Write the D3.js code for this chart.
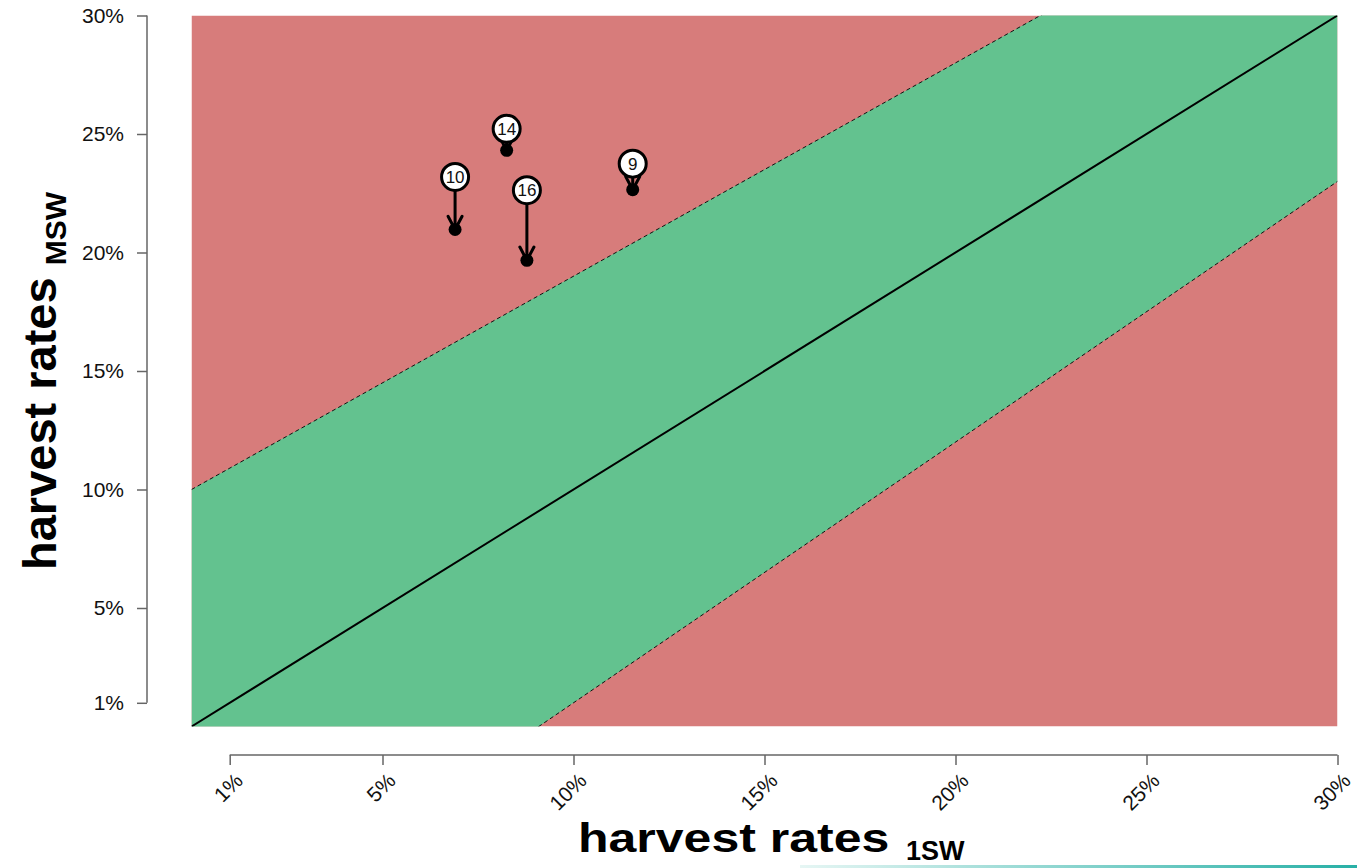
<!DOCTYPE html>
<html>
<head>
<meta charset="utf-8">
<script src="https://cdn.jsdelivr.net/npm/d3@7"></script>
<style>
  html, body { margin: 0; padding: 0; background: #fff; }
  svg { display: block; font-family: "Liberation Sans", Arial, sans-serif; }
</style>
</head>
<body>
<svg id="chart" width="1357" height="868"></svg>
<script>
// Harvest rates of 1SW vs MSW salmon, with the balanced-harvest band
const regionIds = ["10", "14", "16", "9"];
const rate1SW   = [0.0690, 0.0825, 0.0878, 0.1155];
const rateMSWFrom = [0.2319, 0.2522, 0.2263, 0.2375];
const rateMSWTo   = [0.2097, 0.2431, 0.1967, 0.2265];

const tickValues = [0.01, 0.05, 0.10, 0.15, 0.20, 0.25, 0.30];
const tickLabels = ["1%", "5%", "10%", "15%", "20%", "25%", "30%"];

// band edges: MSW = slope * 1SW + intercept
const bandUpper = [0.9, 0.10];
const bandLower = [1.1, -0.10];
const axisExtent = [0, 0.30];

const svg = d3.select("#chart");
const x = d3.scaleLinear().domain(axisExtent).range([191.5, 1337.5]);
const y = d3.scaleLinear().domain(axisExtent).range([726.5, 15.5]);

const RED = "#d77c7b", GREEN = "#63c28f";

// clip to the plotting box
svg.append("clipPath").attr("id", "box")
  .append("rect")
  .attr("x", x(axisExtent[0])).attr("y", y(axisExtent[1]))
  .attr("width", x(axisExtent[1]) - x(axisExtent[0]))
  .attr("height", y(axisExtent[0]) - y(axisExtent[1]));

const plot = svg.append("g").attr("clip-path", "url(#box)");

plot.append("rect")
  .attr("x", x(axisExtent[0])).attr("y", y(axisExtent[1]))
  .attr("width", x(axisExtent[1]) - x(axisExtent[0]))
  .attr("height", y(axisExtent[0]) - y(axisExtent[1]))
  .attr("fill", RED);

const lo = axisExtent[0], hi = axisExtent[1];
const f = (p, v) => p[0] * v + p[1];
const bandPoly = [
  [lo, f(bandUpper, lo)], [hi, f(bandUpper, hi)],
  [hi, f(bandLower, hi)], [lo, f(bandLower, lo)]
];
plot.append("path")
  .attr("d", d3.line().x(d => x(d[0])).y(d => y(d[1]))(bandPoly) + "Z")
  .attr("fill", GREEN);

const line = d3.line().x(d => x(d[0])).y(d => y(d[1]));
[bandUpper, bandLower].forEach(p => {
  plot.append("path")
    .attr("d", line([[lo, f(p, lo)], [hi, f(p, hi)]]))
    .attr("fill", "none").attr("stroke", "#111")
    .attr("stroke-width", 1).attr("stroke-dasharray", "4,3");
});
plot.append("path")
  .attr("d", line([[lo, lo], [hi, hi]]))
  .attr("fill", "none").attr("stroke", "#000").attr("stroke-width", 2);

// axes
const AX = "#666";
const yAxisX = 147, xAxisY = 755;

const gy = svg.append("g").attr("transform", `translate(${yAxisX},0)`)
  .call(d3.axisLeft(y).tickValues(tickValues).tickSize(10).tickPadding(13)
        .tickFormat((d, i) => tickLabels[i]));
gy.select(".domain").remove();
gy.append("line")
  .attr("x1", 0).attr("x2", 0)
  .attr("y1", y(tickValues[0])).attr("y2", y(tickValues[tickValues.length - 1]))
  .attr("stroke", AX).attr("stroke-width", 1.5);
gy.selectAll(".tick line").attr("stroke", AX).attr("stroke-width", 1.5);
gy.selectAll(".tick text").attr("font-size", 21).attr("fill", "#111")
  .attr("font-family", "Liberation Sans, Arial, sans-serif");

const gx = svg.append("g").attr("transform", `translate(0,${xAxisY})`)
  .call(d3.axisBottom(x).tickValues(tickValues).tickSize(10)
        .tickFormat((d, i) => tickLabels[i]));
gx.select(".domain").remove();
gx.append("line")
  .attr("y1", 0).attr("y2", 0)
  .attr("x1", x(tickValues[0])).attr("x2", x(tickValues[tickValues.length - 1]))
  .attr("stroke", AX).attr("stroke-width", 1.5);
gx.selectAll(".tick line").attr("stroke", AX).attr("stroke-width", 1.5);
gx.selectAll(".tick text")
  .attr("font-size", 21).attr("fill", "#111")
  .attr("font-family", "Liberation Sans, Arial, sans-serif")
  .attr("text-anchor", "end")
  .attr("y", 0).attr("dy", 0)
  .attr("transform", "translate(14,27) rotate(-45)");

// axis titles
svg.append("text")
  .attr("transform", "translate(578,852) scale(1,0.82)")
  .attr("font-weight", "bold").attr("font-size", 50).attr("fill", "#000")
  .text("harvest rates");
svg.append("text")
  .attr("x", 906).attr("y", 860)
  .attr("font-weight", "bold").attr("font-size", 27).attr("fill", "#000")
  .text("1SW");

const yt = svg.append("text")
  .attr("transform", "translate(56,570) rotate(-90)")
  .attr("font-weight", "bold").attr("font-size", 47).attr("fill", "#000");
yt.append("tspan").text("harvest rates");
yt.append("tspan").attr("dx", 12).attr("dy", 10).attr("font-size", 30).text("MSW");

// change arrows: from earlier rate (labelled circle) to current rate (dot)
const marks = svg.append("g");
const headLen = 15, headAng = 28 * Math.PI / 180;
regionIds.forEach((id, i) => {
  const x0 = x(rate1SW[i]), y0 = y(rateMSWFrom[i]);
  const x1 = x(rate1SW[i]), y1 = y(rateMSWTo[i]);
  const a = Math.atan2(y1 - y0, x1 - x0);
  const g = marks.append("g").attr("stroke", "#000").attr("stroke-width", 3)
    .attr("fill", "none").attr("stroke-linecap", "round");
  g.append("line").attr("x1", x0).attr("y1", y0).attr("x2", x1).attr("y2", y1);
  [-headAng, headAng].forEach(s => {
    g.append("line").attr("x1", x1).attr("y1", y1)
      .attr("x2", x1 - headLen * Math.cos(a + s))
      .attr("y2", y1 - headLen * Math.sin(a + s));
  });
});
marks.selectAll("circle.dot").data(regionIds).join("circle")
  .attr("class", "dot")
  .attr("cx", (d, i) => x(rate1SW[i])).attr("cy", (d, i) => y(rateMSWTo[i]))
  .attr("r", 6.5).attr("fill", "#000");

const labels = marks.selectAll("g.lab").data(regionIds).join("g")
  .attr("class", "lab")
  .attr("transform", (d, i) => `translate(${x(rate1SW[i])},${y(rateMSWFrom[i])})`);
labels.append("circle").attr("r", 13.5)
  .attr("fill", "#fff").attr("stroke", "#000").attr("stroke-width", 3);
labels.append("text").text(d => d)
  .attr("text-anchor", "middle").attr("dy", "0.36em")
  .attr("font-size", 17).attr("fill", "#111");

// thin accent rule along the bottom edge
const grad = svg.append("linearGradient").attr("id", "rule")
  .attr("x1", "0%").attr("x2", "100%");
grad.append("stop").attr("offset", "0%").attr("stop-color", "#e6f6f4");
grad.append("stop").attr("offset", "100%").attr("stop-color", "#28b0a6");
svg.append("rect").attr("x", 800).attr("y", 865).attr("width", 557).attr("height", 3)
  .attr("fill", "url(#rule)");
</script>
</body>
</html>
